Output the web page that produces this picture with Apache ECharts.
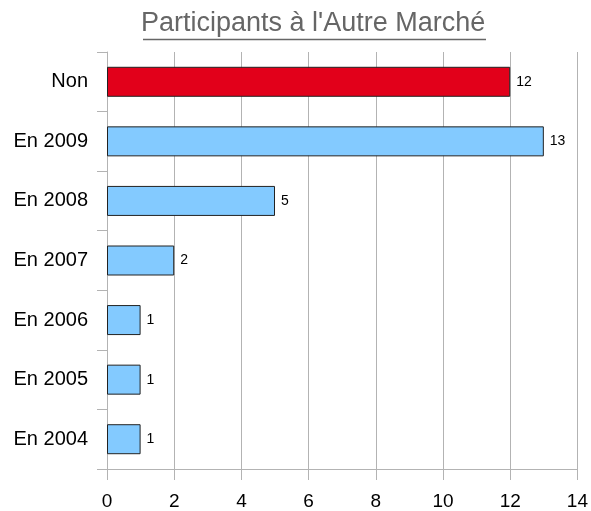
<!DOCTYPE html>
<html>
<head>
<meta charset="utf-8">
<script src="https://cdn.jsdelivr.net/npm/echarts@6/dist/echarts.min.js"></script>
<style>
  html, body { margin: 0; padding: 0; background: #fff; }
  #chart { width: 591px; height: 511px; }
</style>
</head>
<body>
<div id="chart"></div>
<script>
var dom = document.getElementById('chart');
var myChart = echarts.init(dom, null, { renderer: 'canvas' });

// bottom to top, as the category axis draws them
var categories = ['En 2004', 'En 2005', 'En 2006', 'En 2007', 'En 2008', 'En 2009', 'Non'];
var values = [1, 1, 1, 2, 5, 13, 12];
var barColors = ['#83caff', '#83caff', '#83caff', '#83caff', '#83caff', '#83caff', '#e2001a'];
var xTicks = [0, 2, 4, 6, 8, 10, 12, 14];

var font = 'Liberation Sans, Arial, sans-serif';
var gridColor = '#b3b3b3';

var option = {
    backgroundColor: '#ffffff',
    animation: false,
    title: {
        text: "Participants à l'Autre Marché",
        left: 141,
        top: 10,
        padding: 0,
        textStyle: {
            color: '#666666',
            fontFamily: font,
            fontSize: 27,
            fontWeight: 'normal'
        }
    },
    graphic: [
        {
            type: 'line',
            shape: { x1: 143, y1: 39.5, x2: 486, y2: 39.5 },
            style: { stroke: '#666666', lineWidth: 1.5 }
        }
    ],
    grid: {
        left: 107,
        right: 13,
        top: 52,
        bottom: 42,
        containLabel: false
    },
    xAxis: {
        type: 'value',
        min: xTicks[0],
        max: xTicks[xTicks.length - 1],
        interval: 2,
        axisLine: { show: true, lineStyle: { color: gridColor } },
        axisTick: { show: true, length: 11, lineStyle: { color: gridColor } },
        axisLabel: {
            color: '#000000',
            fontFamily: font,
            fontSize: 19,
            margin: 23
        },
        splitLine: { show: true, lineStyle: { color: gridColor } }
    },
    yAxis: {
        type: 'category',
        data: categories,
        axisLine: { show: true, lineStyle: { color: gridColor } },
        axisTick: { show: true, length: 10, lineStyle: { color: gridColor } },
        axisLabel: {
            color: '#000000',
            fontFamily: font,
            fontSize: 20,
            margin: 19
        },
        splitLine: { show: false }
    },
    series: [
        {
            type: 'bar',
            barWidth: 30,
            data: values.map(function (v, i) {
                return {
                    value: v,
                    itemStyle: { color: barColors[i] }
                };
            }),
            itemStyle: {
                borderColor: '#222222',
                borderWidth: 1
            },
            label: {
                show: true,
                position: 'right',
                distance: 6,
                color: '#000000',
                fontFamily: font,
                fontSize: 14
            }
        }
    ]
};

myChart.setOption(option);
window.addEventListener('resize', myChart.resize);
</script>
</body>
</html>
